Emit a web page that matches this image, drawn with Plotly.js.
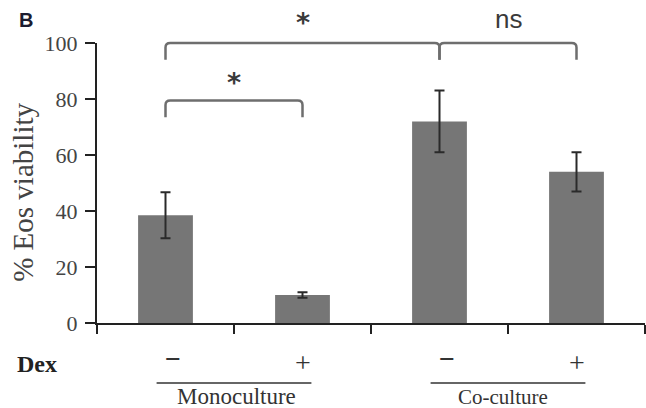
<!DOCTYPE html>
<html>
<head>
<meta charset="utf-8">
<script src="https://cdn.plot.ly/plotly-3.0.1.min.js"></script>
<style>
  html, body { margin: 0; padding: 0; background: #fff; }
  #chart { width: 646px; height: 408px; }
</style>
</head>
<body>
<div id="chart"></div>
<script>
// ---- data ----
const categories = [0, 1, 2, 3];
const dexLabels = ['\u2212', '+', '\u2212', '+'];
const viability = [38.5, 10, 72, 54];
const viabilityErr = [8.2, 1.0, 11, 7];
const groupNames = ['Monoculture', 'Co-culture'];
const groupCenters = [0.5, 2.5];
const yTickVals = [0, 20, 40, 60, 80, 100];
const yTitle = '% Eos viability';

// significance brackets
const bracketFrom = [0, 0, 2];
const bracketTo = [1, 2, 3];
const bracketY = [79.5, 100, 100];
const bracketLabels = ['*', '*', 'ns'];
const bracketLabelY = [86, 107.5, 108.5];

// ---- helpers (data -> axis-domain fractions) ----
const xRange = [-0.5, 3.5];
const yRange = [0, 100];
const fx = v => (v - xRange[0]) / (xRange[1] - xRange[0]);
const fy = v => (v - yRange[0]) / (yRange[1] - yRange[0]);

const bracketColor = '#6e6e6e';
const shapes = [];
const drop = 6;      // data units
const rx = 0.035, ry = 1.6;
for (let i = 0; i < bracketFrom.length; i++) {
  const x1 = fx(bracketFrom[i]), x2 = fx(bracketTo[i]);
  const y = fy(bracketY[i]), yb = fy(bracketY[i] - drop);
  const dx = rx / (xRange[1] - xRange[0]), dy = ry / (yRange[1] - yRange[0]);
  const path = `M ${x1} ${yb} L ${x1} ${y - dy} Q ${x1} ${y} ${x1 + dx} ${y} ` +
               `L ${x2 - dx} ${y} Q ${x2} ${y} ${x2} ${y - dy} L ${x2} ${yb}`;
  shapes.push({type: 'path', xref: 'x domain', yref: 'y domain', path: path,
               line: {color: bracketColor, width: 2.5}});
}
// group underlines
for (let g = 0; g < groupCenters.length; g++) {
  shapes.push({type: 'line', xref: 'x domain', yref: 'y domain',
    x0: fx(groupCenters[g] - 0.565), x1: fx(groupCenters[g] + 0.565),
    y0: fy(-21.4), y1: fy(-21.4), line: {color: '#333', width: 1.5}});
}

const annotations = [];
for (let i = 0; i < bracketLabels.length; i++) {
  const isStar = bracketLabels[i] === '*';
  annotations.push({
    xref: 'x domain', yref: 'y domain', x: fx((bracketFrom[i] + bracketTo[i]) / 2), y: fy(bracketLabelY[i]),
    text: isStar ? '<b>*</b>' : bracketLabels[i], showarrow: false, yanchor: 'middle', xanchor: 'center',
    font: {family: isStar ? 'DejaVu Sans' : 'Liberation Sans', size: isStar ? 27 : 26, color: '#3a3a3a'}
  });
}
for (let i = 0; i < categories.length; i++) {
  const minus = dexLabels[i] !== '+';
  annotations.push({
    xref: 'x domain', yref: 'y domain', x: fx(categories[i]), y: fy(minus ? -12.8 : -14),
    text: minus ? '<b>' + dexLabels[i] + '</b>' : dexLabels[i],
    xshift: minus ? 7 : 0,
    showarrow: false, yanchor: 'middle', xanchor: 'center',
    font: {family: 'Liberation Serif', size: 28, color: '#333'}
  });
}
annotations.push({
  xref: 'x domain', yref: 'y domain', x: fx(-0.94), y: fy(-14.8), text: '<b>Dex</b>', showarrow: false,
  yanchor: 'middle', xanchor: 'center', font: {family: 'Liberation Serif', size: 24, color: '#222'}
});
for (let g = 0; g < groupNames.length; g++) {
  annotations.push({
    xref: 'x domain', yref: 'y domain', x: fx(groupCenters[g] + (g === 0 ? 0.02 : -0.04)), y: fy(-26.3),
    text: groupNames[g], showarrow: false, yanchor: 'middle', xanchor: 'center',
    font: {family: 'Liberation Serif', size: g === 0 ? 23 : 21, color: '#333'}
  });
}
annotations.push({
  xref: 'paper', yref: 'paper', x: -0.130, y: 1.082, text: '<b>B</b>', showarrow: false,
  xanchor: 'center', yanchor: 'middle',
  font: {family: 'Liberation Sans', size: 20, color: '#1c1c30'}
});
// y axis title
annotations.push({
  xref: 'paper', yref: 'paper', x: -0.135, y: 0.465, text: yTitle, textangle: -90, showarrow: false,
  xanchor: 'center', yanchor: 'middle',
  font: {family: 'Liberation Serif', size: 29, color: '#444'}
});

const trace = {
  type: 'bar', x: categories, y: viability, width: 0.4,
  marker: {color: '#767676', line: {width: 0}},
  error_y: {type: 'data', array: viabilityErr, visible: true, color: '#2a2a2a', thickness: 2, width: 5},
  hoverinfo: 'none'
};

const layout = {
  width: 646, height: 408,
  margin: {l: 97, r: 1, t: 43, b: 85},
  paper_bgcolor: '#fff', plot_bgcolor: '#fff',
  showlegend: false,
  xaxis: {
    range: xRange, tickvals: [-0.5, 0.5, 1.5, 2.5, 3.5], ticktext: ['', '', '', '', ''],
    ticks: 'outside', ticklen: 9, tickwidth: 2, tickcolor: '#222',
    showline: true, linewidth: 2, linecolor: '#222', showgrid: false, zeroline: false, fixedrange: true
  },
  yaxis: {
    range: yRange, tickvals: yTickVals, ticks: 'outside', ticklen: 10, tickwidth: 2, tickcolor: '#222',
    ticklabelstandoff: 3,
    showline: true, linewidth: 2, linecolor: '#222', showgrid: false, zeroline: false, fixedrange: true,
    tickfont: {family: 'Liberation Serif', size: 22, color: '#444'}
  },
  shapes: shapes,
  annotations: annotations
};

Plotly.newPlot('chart', [trace], layout, {displayModeBar: false, staticPlot: true});
</script>
</body>
</html>
